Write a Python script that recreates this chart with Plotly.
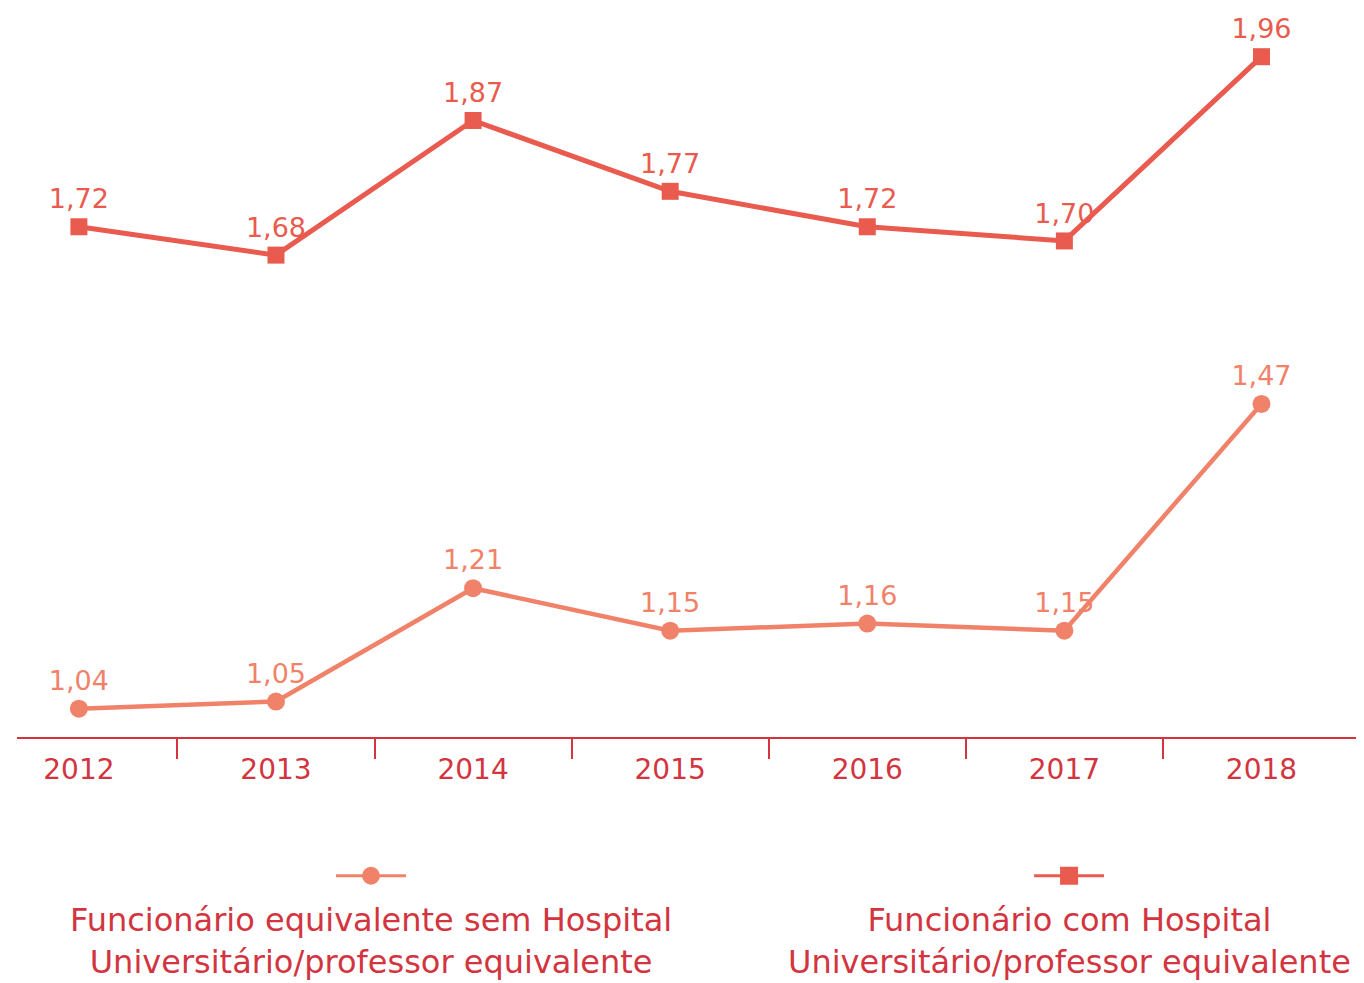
import plotly.graph_objects as go

# Data
years = ["2012", "2013", "2014", "2015", "2016", "2017", "2018"]
com_hu = [1.72, 1.68, 1.87, 1.77, 1.72, 1.70, 1.96]
sem_hu = [1.04, 1.05, 1.21, 1.15, 1.16, 1.15, 1.47]
series_names = [
    "Funcionário equivalente sem Hospital<br>Universitário/professor equivalente",
    "Funcionário com Hospital<br>Universitário/professor equivalente",
]

FONT = "DejaVu Sans"
AXIS_RED = "#D23540"
COLOR_COM = "#E85B4E"
COLOR_SEM = "#F1826A"


def fmt(v):
    return f"{v:.2f}".replace(".", ",")


fig = go.Figure()

fig.add_trace(go.Scatter(
    x=years, y=sem_hu,
    mode="lines+markers+text",
    text=[fmt(v) for v in sem_hu],
    textposition="top center",
    textfont=dict(family=FONT, size=27, color=COLOR_SEM),
    line=dict(color=COLOR_SEM, width=4.5),
    marker=dict(symbol="circle", size=18, color=COLOR_SEM),
    cliponaxis=False,
    showlegend=False,
))

fig.add_trace(go.Scatter(
    x=years, y=com_hu,
    mode="lines+markers+text",
    text=[fmt(v) for v in com_hu],
    textposition="top center",
    textfont=dict(family=FONT, size=27, color=COLOR_COM),
    line=dict(color=COLOR_COM, width=5),
    marker=dict(symbol="square", size=17, color=COLOR_COM),
    cliponaxis=False,
    showlegend=False,
))

# custom legend: symbol above text
legend_x = [0.2632, 0.7822]
legend_colors = [COLOR_SEM, COLOR_COM]
legend_symbols = ["circle", "square"]
for cx, col, sym, name in zip(legend_x, legend_colors, legend_symbols, series_names):
    fig.add_shape(
        type="line", xref="x2", yref="y2",
        x0=cx - 0.026, x1=cx + 0.026, y0=0.55, y1=0.55,
        line=dict(color=col, width=3),
    )
    fig.add_trace(go.Scatter(
        x=[cx], y=[0.55],
        xaxis="x2", yaxis="y2",
        mode="markers",
        marker=dict(symbol=sym, size=18, color=col),
        showlegend=False, hoverinfo="skip",
    ))
    fig.add_annotation(
        x=cx, y=0.043, xref="paper", yref="paper",
        text=name, showarrow=False, align="center",
        xanchor="center", yanchor="middle",
        font=dict(family=FONT, size=32, color=AXIS_RED),
    )

fig.update_layout(
    width=1356, height=975,
    margin=dict(l=9, r=2, t=0, b=0),
    paper_bgcolor="white",
    plot_bgcolor="white",
    font=dict(family=FONT, color=AXIS_RED),
    xaxis=dict(
        type="category",
        range=[-0.314, 6.51],
        showgrid=False,
        showline=True, linecolor=AXIS_RED, linewidth=2,
        ticks="outside", tickson="boundaries", ticklen=20,
        tickcolor=AXIS_RED, tickwidth=2,
        tickfont=dict(family=FONT, size=28, color=AXIS_RED),
        ticklabelstandoff=6,
        automargin=False,
        fixedrange=True,
    ),
    yaxis=dict(
        domain=[0.2523, 1],
        range=[1.0, 2.0287],
        visible=False,
        showgrid=False,
        zeroline=False,
        fixedrange=True,
    ),
    xaxis2=dict(domain=[0, 1], range=[0, 1], visible=False, anchor="y2",
                fixedrange=True),
    yaxis2=dict(domain=[0, 0.2], range=[0, 1], visible=False, anchor="x2",
                fixedrange=True),
)

fig.write_html("out.html")
